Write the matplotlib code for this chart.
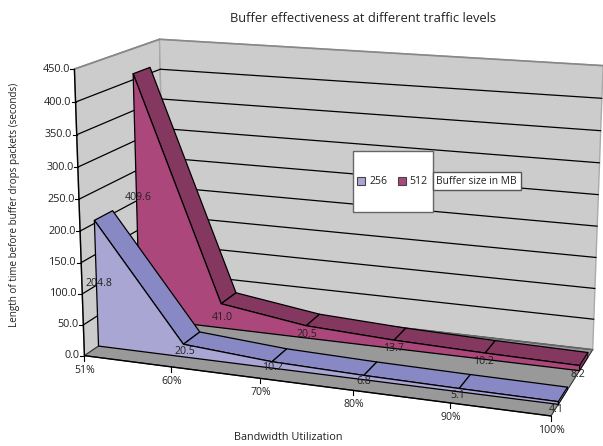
import numpy as np
import matplotlib
matplotlib.use('Agg')
import matplotlib.pyplot as plt
from matplotlib.patches import Polygon, Rectangle

plt.rcParams['font.family'] = ['Open Sans', 'DejaVu Sans']

# data
categories = ['51%', '60%', '70%', '80%', '90%', '100%']
values_256 = [204.8, 20.5, 10.2, 6.8, 5.1, 4.1]
values_512 = [409.6, 41.0, 20.5, 13.7, 10.2, 8.2]
value_ticks = [0, 50, 100, 150, 200, 250, 300, 350, 400, 450]
series_names = ['256', '512']

title = 'Buffer effectiveness at different traffic levels'
x_title = 'Bandwidth Utilization'
y_title = 'Length of time before buffer drops packets (seconds)'
legend_title = 'Buffer size in MB'

# colours
WALL = '#cccccc'
FLOOR = '#999999'
FRONT_256, TOP_256 = '#aaa6d4', '#8888c4'
FRONT_512, TOP_512 = '#ac477b', '#85385f'
TEXT = '#222222'

# the 3d box: (category, depth, value) -> pixel, fitted on the box corners
zmax = value_ticks[-1]
xmax = len(categories) - 1
corners = [
    ((0, 0, 0), (85, 354)),
    ((0, 0, zmax), (74, 69)),
    ((xmax, 0, 0), (551, 416)),
    ((0, 1, zmax), (160, 39)),
    ((0, 1, 0), (165, 302)),
    ((xmax, 1, 0), (593, 348)),
    ((xmax, 1, zmax), (603, 66)),
    ((1, 0, 0), (171, 366)),
    ((3, 0, 0), (353, 393)),
]
A = []
b = []
for (x, d, z), (px, py) in corners:
    z = z / zmax
    A.append([x, d, z, 1, 0, 0, 0, 0, -px * x, -px * d, -px * z])
    A.append([0, 0, 0, 0, x, d, z, 1, -py * x, -py * d, -py * z])
    b += [px, py]
h = np.linalg.lstsq(np.array(A, float), np.array(b, float), rcond=None)[0]


def proj(x, d, z):
    z = z / zmax
    w = h[8] * x + h[9] * d + h[10] * z + 1
    return ((h[0] * x + h[1] * d + h[2] * z + h[3]) / w,
            (h[4] * x + h[5] * d + h[6] * z + h[7]) / w)


fig = plt.figure(figsize=(6.03, 4.46), dpi=100)
ax = fig.add_axes([0, 0, 1, 1])
ax.set_xlim(0, 603)
ax.set_ylim(446, 0)
ax.axis('off')


def face(pts, color, edge='black', lw=0.9, z=1):
    ax.add_patch(Polygon([proj(*p) for p in pts], closed=True, fc=color,
                         ec=edge, lw=lw, zorder=z, joinstyle='round'))


def seg(p, q, color='black', lw=0.9, z=2):
    a, b = proj(*p), proj(*q)
    ax.plot([a[0], b[0]], [a[1], b[1]], color=color, lw=lw, zorder=z,
            solid_capstyle='round')


# walls and floor
face([(0, 0, 0), (0, 1, 0), (0, 1, zmax), (0, 0, zmax)], WALL, edge='#888888', lw=1.0)
face([(0, 1, 0), (xmax, 1, 0), (xmax, 1, zmax), (0, 1, zmax)], WALL, edge='#aaaaaa', lw=1.0)
seg((0, 0, zmax), (0, 1, zmax), '#888888', 1.2)
seg((0, 1, zmax), (xmax, 1, zmax), '#888888', 1.2)
for t in value_ticks[1:-1]:
    seg((0, 0, t), (0, 1, t))
    seg((0, 1, t), (xmax, 1, t))
face([(0, 0, 0), (xmax, 0, 0), (xmax, 1, 0), (0, 1, 0)], FLOOR, edge='#333333', lw=0.8)
seg((0, 1, 0), (xmax, 1, 0), '#666666', 1.2, 3)


def draw_area(values, d0, d1, front, top, z):
    n = len(values)
    for i in range(n - 1):
        face([(i, d0, values[i]), (i + 1, d0, values[i + 1]),
              (i + 1, d1, values[i + 1]), (i, d1, values[i])], top, z=z)
    # right end cap
    face([(n - 1, d0, 0), (n - 1, d1, 0), (n - 1, d1, values[-1]),
          (n - 1, d0, values[-1])], top, lw=0.6, z=z)
    pts = [(0, d0, 0)] + [(i, d0, v) for i, v in enumerate(values)] + [(n - 1, d0, 0)]
    face(pts, front, z=z + 0.1)
    for i, v in enumerate(values):
        px, py = proj(i, d0, v / 2)
        # labels drift away from the face towards the right
        ax.text(px + 2 - 0.8 * i, py + 1.3 * i, f'{v:.1f}', ha='center', va='center',
                fontsize=7.6, color=TEXT, zorder=10)


draw_area(values_512, 0.66, 0.87, FRONT_512, TOP_512, 4)
draw_area(values_256, 0.16, 0.37, FRONT_256, TOP_256, 6)

# axes
seg((0, 0, 0), (0, 0, zmax), 'black', 1.0, 8)
seg((0, 0, 0), (xmax, 0, 0), 'black', 1.0, 8)
for t in value_ticks:
    px, py = proj(0, 0, t)
    ax.plot([px - 4, px], [py, py], color='black', lw=0.8, zorder=8)
    ax.text(px - 4.5, py, f'{t:.1f}', ha='right', va='center', fontsize=7.8,
            color=TEXT, zorder=10)
for i, c in enumerate(categories):
    px, py = proj(i, 0, 0)
    ax.plot([px, px], [py, py + 5], color='black', lw=0.8, zorder=8)
    ax.text(px + 0.5, py + 14.5, c, ha='center', va='center', fontsize=7.6,
            color=TEXT, zorder=10)

# titles
ax.text(363, 18, title, ha='center', va='center', fontsize=9.3, color=TEXT)
ax.text(288, 437, x_title, ha='center', va='center', fontsize=7.8, color=TEXT)
ax.text(15, 205, y_title, ha='center', va='center', rotation=90, fontsize=7.15,
        color=TEXT)

# legend
ax.add_patch(Rectangle((353, 151), 80, 61, fc='white', ec='#666666', lw=1.0, zorder=12))
ax.add_patch(Rectangle((357, 177), 8, 8, fc=FRONT_256, ec='#444444', lw=0.8, zorder=13))
ax.text(369, 181.5, series_names[0], ha='left', va='center', fontsize=7.6, color=TEXT, zorder=13)
ax.add_patch(Rectangle((398, 177), 8, 8, fc=FRONT_512, ec='#444444', lw=0.8, zorder=13))
ax.text(409, 181.5, series_names[1], ha='left', va='center', fontsize=7.6, color=TEXT, zorder=13)
ax.add_patch(Rectangle((433, 172), 88, 18, fc='white', ec='#555555', lw=1.0, zorder=12))
ax.text(436, 181, legend_title, ha='left', va='center', fontsize=7.4, color=TEXT, zorder=13)

fig.savefig('out.png', dpi=100)
